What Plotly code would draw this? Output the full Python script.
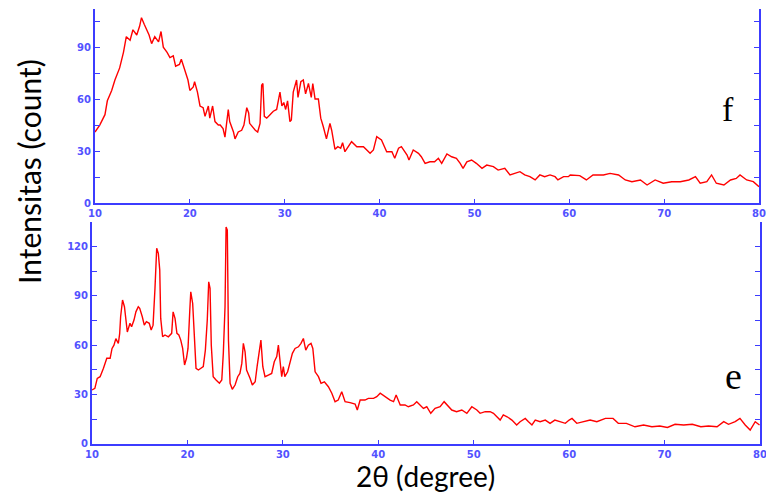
import plotly.graph_objects as go

# ---- Data: panel f (top) ----
f_theta = [10.0, 10.5, 11.05, 11.3, 11.76, 12.1, 12.6, 13.0, 13.3, 13.7, 14.0, 14.4, 14.7, 14.9, 15.2,
           15.45, 15.7, 15.97, 16.3, 16.7, 16.96, 17.2, 17.6, 17.9, 18.25, 18.5, 18.9, 19.1, 19.5, 19.8,
           20.0, 20.36, 20.5, 20.8, 21.07, 21.4, 21.6, 21.95, 22.1, 22.4, 22.65, 23.0, 23.2, 23.5, 23.7,
           24.05, 24.2, 24.6, 24.76, 25.1, 25.46, 25.7, 26.0, 26.2, 26.3, 26.7, 26.9, 27.15, 27.4, 27.57,
           27.7, 27.85, 28.1, 28.45, 28.8, 29.15, 29.3, 29.5, 29.7, 29.9, 30.1, 30.3, 30.55, 30.7, 30.9,
           31.25, 31.4, 31.7, 31.96, 32.2, 32.5, 32.8, 32.96, 33.2, 33.55, 33.8, 34.07, 34.4, 34.77, 34.95,
           35.3, 35.6, 35.9, 36.1, 36.35, 37.05, 37.6, 38.3, 39.0, 39.35, 39.7, 40.2, 40.75, 41.3, 41.6,
           42.0, 42.3, 42.9, 43.1, 43.55, 44.1, 44.4, 44.8, 45.3, 45.8, 46.2, 46.55, 47.1, 47.6, 48.1,
           48.5, 48.8, 49.2, 49.7, 50.2, 50.8, 51.3, 52.0, 52.5, 53.2, 53.75, 54.4, 54.8, 55.3, 55.85,
           56.4, 56.9, 57.4, 57.97, 58.5, 58.8, 59.4, 59.9, 60.1, 61.1, 61.8, 62.5, 63.6, 64.3, 65.2,
           65.9, 66.6, 67.5, 68.2, 69.05, 69.9, 70.8, 71.7, 72.6, 73.3, 73.8, 74.5, 75.0, 75.5, 76.3,
           77.0, 77.6, 78.0, 78.7, 79.4, 80.0]
f_counts = [41, 45, 51, 59, 65, 71, 78, 87, 96, 94, 100, 97, 102, 107, 103,
            100, 97, 92, 96, 93, 99, 90, 87, 84, 85, 79, 80, 83, 76, 71,
            65, 67, 70, 64, 56, 55, 50, 56, 49, 56, 47, 45, 45, 43, 38,
            54, 47, 41, 37, 41, 42, 45, 55, 52, 46, 43, 42, 41, 46, 68,
            69, 50, 49, 51, 53, 54, 59, 64, 56, 58, 54, 59, 47, 48, 64,
            71, 61, 70, 71, 63, 69, 61, 69, 60, 60, 49, 44, 37, 46, 42,
            31, 32.5, 31.6, 34.8, 29.6, 35.4, 32.5, 32.5, 28.7, 30.6, 38.3, 36.4, 29.6, 29.6, 25.8,
            31.6, 32.5, 27.7, 24.8, 30.6, 28.7, 26.7, 22.9, 23.8, 23.8, 25.8, 22.9, 28.3, 26.7, 25.8,
            22.9, 20, 23.8, 24.8, 22.9, 20, 21.9, 21, 19, 20, 16.2, 17.1, 18.1, 16.2, 15.2,
            13.3, 16.2, 15.2, 16.2, 15.2, 13.3, 15.2, 15.2, 16.2, 15.8, 13.3, 16.2, 16.2, 17.1, 16.2,
            13.3, 12.3, 13.3, 10.4, 13.3, 11.4, 12.3, 12.3, 13.3, 15.2, 11.4, 12.3, 16.2, 11.4, 10.4,
            13.3, 14.2, 16.2, 13.3, 12.3, 9.4]

# ---- Data: panel e (bottom) ----
e_theta = [10.0, 10.3, 10.55, 10.85, 11.2, 11.55, 11.9, 12.1, 12.3, 12.5, 12.76, 12.9, 13.0, 13.2, 13.4,
           13.56, 13.7, 13.98, 14.15, 14.4, 14.6, 14.85, 15.0, 15.27, 15.48, 15.7, 16.0, 16.2, 16.4, 16.6,
           16.78, 16.95, 17.1, 17.2, 17.4, 17.65, 18.0, 18.35, 18.5, 18.7, 18.9, 19.1, 19.3, 19.5, 19.7,
           19.9, 20.06, 20.25, 20.35, 20.55, 20.7, 20.9, 21.15, 21.4, 21.66, 21.88, 22.08, 22.23, 22.37, 22.5,
           22.7, 23.0, 23.35, 23.6, 23.76, 23.94, 24.05, 24.18, 24.3, 24.47, 24.7, 24.99, 25.27, 25.5, 25.7,
           25.86, 26.04, 26.2, 26.38, 26.56, 26.8, 27.1, 27.3, 27.54, 27.7, 27.9, 28.13, 28.48, 28.83, 29.1,
           29.36, 29.53, 29.7, 29.88, 30.05, 30.2, 30.5, 30.76, 31.0, 31.28, 31.63, 31.9, 32.15, 32.4, 32.67,
           32.95, 33.14, 33.38, 33.73, 34.0, 34.35, 34.77, 35.13, 35.47, 35.8, 36.17, 36.52, 37.04, 37.57, 37.8,
           38.1, 38.6, 38.96, 39.5, 39.84, 40.2, 40.7, 41.24, 41.6, 41.87, 42.3, 42.8, 43.15, 43.68, 44.03,
           44.4, 44.73, 45.08, 45.5, 45.95, 46.48, 46.9, 47.18, 47.7, 48.2, 48.75, 49.28, 49.8, 50.33, 50.67,
           51.2, 51.72, 52.07, 52.42, 52.77, 53.1, 53.5, 54.0, 54.5, 54.86, 55.4, 55.74, 56.1, 56.45, 56.96,
           57.5, 58.0, 58.5, 59.06, 59.6, 60.0, 60.3, 60.8, 61.5, 62.2, 62.9, 63.4, 63.8, 64.6, 65.15,
           66.0, 66.9, 67.8, 68.67, 69.5, 70.3, 71.1, 72.0, 72.9, 73.8, 74.6, 75.5, 76.2, 76.7, 77.4,
           77.9, 78.45, 78.97, 79.5, 79.95]
e_counts = [32.7, 33.7, 39.8, 40.8, 45.9, 52, 52, 58, 60, 64, 61, 67, 77.3, 87.5, 83.4,
            74.3, 68, 73.3, 71.2, 75.3, 80.3, 83.4, 82.4, 77.3, 72.2, 74.3, 73.3, 69.2, 72.2, 94.6,
            119, 115.9, 105.7, 76.3, 65.1, 66.2, 65.1, 67.2, 80.3, 76.3, 67.2, 66.2, 63.1, 58, 47.9,
            52, 58, 81.4, 92.5, 85.4, 65.1, 45.9, 44.9, 45.9, 46.9, 57, 75.3, 98.6, 94.6, 60,
            40.8, 38.8, 36.8, 38.8, 55, 83.4, 132, 130, 63.1, 36.8, 33.1, 35.7, 40.8, 42.8, 48.9,
            61.1, 56, 44.9, 42.8, 39.8, 35.7, 37.7, 46.9, 57, 63.1, 46.9, 40.8, 41.8, 42.8, 49.9,
            53, 60, 51, 40.8, 46.9, 40.8, 43.8, 48.9, 55, 58, 59, 61.1, 64.1, 57, 60,
            61.1, 58, 43.8, 40.8, 36.8, 37.7, 34.7, 30.7, 25.6, 26.6, 31.6, 25.6, 25, 24.2, 20.5,
            26.6, 26.6, 27.6, 27.6, 28.6, 30.7, 28.6, 26.6, 25.6, 29.6, 23.6, 23.6, 22.5, 23.6, 25.6,
            23.6, 21.5, 22.5, 18.5, 21.5, 22.5, 25.6, 23.6, 20.5, 19.5, 20.5, 18.5, 22.5, 20.5, 18.5,
            19.5, 19.5, 18.5, 16.4, 14.4, 17.5, 16.4, 14.4, 11.4, 13.4, 15.4, 13.4, 11.4, 14.4, 13.4,
            14.4, 12.4, 14.4, 13.4, 12.4, 14.4, 15.4, 12.4, 13.4, 14.4, 13.4, 14.4, 15.4, 15.4, 12.4,
            12.4, 10.3, 11.4, 10.3, 10.8, 9.9, 11.8, 11.4, 11.8, 10.3, 10.8, 10.3, 13.4, 11.8, 13.4,
            15.4, 11.4, 8.3, 13.4, 11.4]

x_ticks = [10, 20, 30, 40, 50, 60, 70, 80]
f_yticks = [0, 30, 60, 90]
e_yticks = [0, 30, 60, 90, 120]

W, H = 766, 493
LINE_RED = "#ff0000"
AX_BLUE = "#3c3cff"
TICK_FONT = dict(family="DejaVu Sans", size=10, color="#5252ff", weight="bold")

def px_x(p):
    return p / W

def px_y(p):
    return 1 - p / H

fig = go.Figure()
fig.add_trace(go.Scatter(x=f_theta, y=f_counts, mode="lines",
                         line=dict(color=LINE_RED, width=1.4), xaxis="x", yaxis="y",
                         showlegend=False, hoverinfo="skip"))
fig.add_trace(go.Scatter(x=e_theta, y=e_counts, mode="lines",
                         line=dict(color=LINE_RED, width=1.4), xaxis="x2", yaxis="y2",
                         showlegend=False, hoverinfo="skip"))

xcommon = dict(range=[10, 80], tickvals=x_ticks, ticks="inside", ticklen=4,
               tickcolor=AX_BLUE, showline=True, linecolor=AX_BLUE, linewidth=2,
               showgrid=False, zeroline=False, tickfont=TICK_FONT, mirror=False,
               fixedrange=True, automargin=False, ticklabeloverflow="allow")
ycommon = dict(ticks="inside", ticklen=5, tickcolor=AX_BLUE, showline=True,
               linecolor=AX_BLUE, linewidth=2, showgrid=False, zeroline=False,
               tickfont=TICK_FONT, mirror="ticks", fixedrange=True, automargin=False,
               minor=dict(ticks="inside", ticklen=5, tickcolor=AX_BLUE, dtick=15, tick0=0,
                          showgrid=False))

fig.update_layout(
    template="none",
    width=W, height=H,
    margin=dict(l=0, r=0, t=0, b=0, pad=0),
    paper_bgcolor="white", plot_bgcolor="white",
    xaxis=dict(domain=[px_x(95), px_x(759)], anchor="y", **xcommon),
    yaxis=dict(domain=[px_y(203), px_y(9)], anchor="x", range=[0, 112],
               tickvals=f_yticks, **ycommon),
    xaxis2=dict(domain=[px_x(92), px_x(760)], anchor="y2", **xcommon),
    yaxis2=dict(domain=[px_y(443.7), px_y(222)], anchor="x2", range=[0, 135],
                tickvals=e_yticks, **ycommon),
)

fig.add_annotation(text="Intensitas (count)", x=px_x(29), y=px_y(172), xref="paper", yref="paper",
                   textangle=-90, showarrow=False, xanchor="center", yanchor="middle",
                   font=dict(family="Lato", size=30, color="black"))
fig.add_annotation(text="2θ (degree)", x=px_x(425), y=px_y(476), xref="paper", yref="paper",
                   showarrow=False, xanchor="center", yanchor="middle", borderpad=0,
                   font=dict(family="Lato", size=28, color="black"))
fig.add_annotation(text="f", x=px_x(728), y=px_y(110), xref="paper", yref="paper",
                   showarrow=False, xanchor="center", yanchor="middle",
                   font=dict(family="Liberation Serif", size=34, color="black"))
fig.add_annotation(text="e", x=px_x(733), y=px_y(376), xref="paper", yref="paper",
                   showarrow=False, xanchor="center", yanchor="middle",
                   font=dict(family="Liberation Serif", size=38, color="black"))

fig.write_html(
    "out.html",
    config={"displayModeBar": False},
    post_script="document.body.style.margin='0px';document.body.style.overflow='hidden';",
)
